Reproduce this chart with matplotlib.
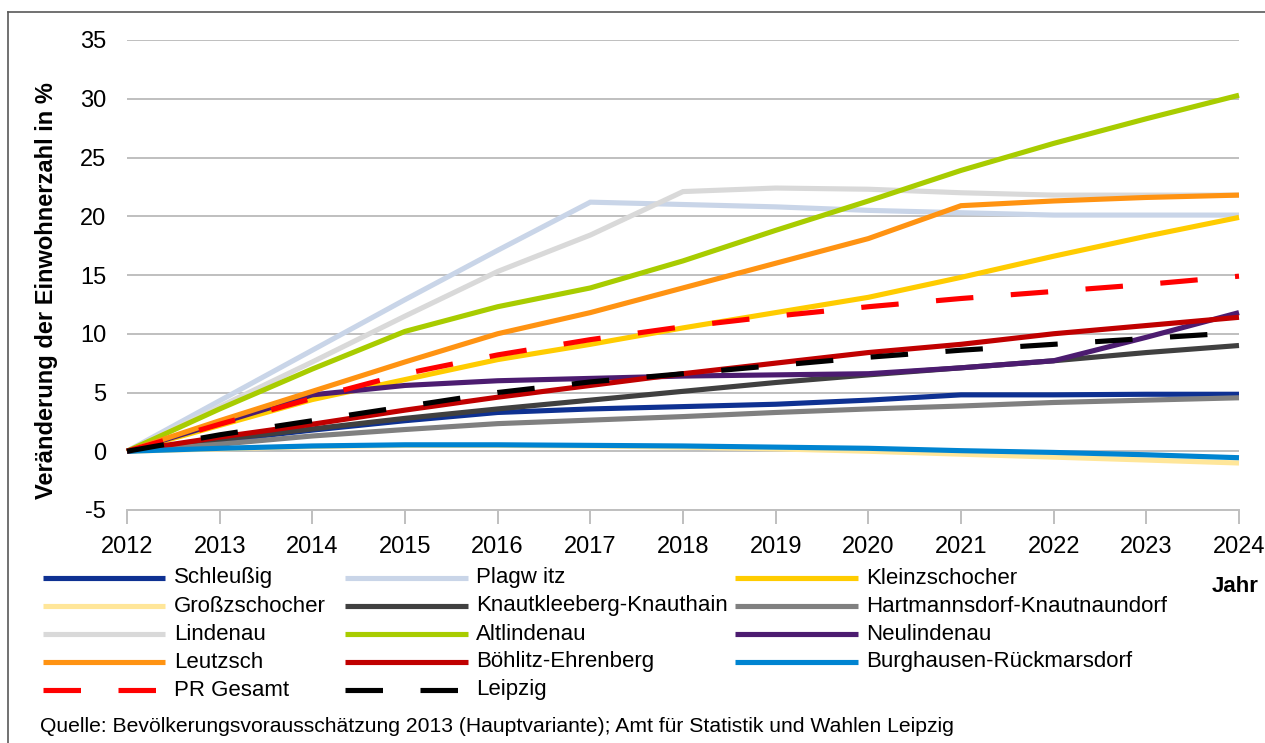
import numpy as np
import matplotlib
matplotlib.use("Agg")
import matplotlib.pyplot as plt
from matplotlib.lines import Line2D

plt.rcParams['font.family'] = ['Liberation Sans', 'DejaVu Sans']
plt.rcParams['lines.scale_dashes'] = False
plt.rcParams['axes.unicode_minus'] = False

years = list(range(2012, 2025))

labels = ["Schleußig", "Plagw itz", "Kleinzschocher", "Großzschocher",
          "Knautkleeberg-Knauthain", "Hartmannsdorf-Knautnaundorf", "Lindenau",
          "Altlindenau", "Neulindenau", "Leutzsch", "Böhlitz-Ehrenberg",
          "Burghausen-Rückmarsdorf", "PR Gesamt", "Leipzig"]

schleussig = [0, 0.9, 1.8, 2.6, 3.3, 3.6, 3.8, 4.0, 4.35, 4.8, 4.8, 4.85, 4.85]
plagwitz = [0, 4.3, 8.6, 12.9, 17.1, 21.2, 21.0, 20.8, 20.5, 20.3, 20.1, 20.1, 20.1]
kleinzschocher = [0, 2.2, 4.4, 6.1, 7.8, 9.1, 10.5, 11.8, 13.1, 14.8, 16.6, 18.3, 19.9]
grosszschocher = [0, 0.2, 0.4, 0.5, 0.5, 0.45, 0.35, 0.2, 0.0, -0.25, -0.5, -0.75, -1.0]
knautkleeberg = [0, 1.0, 1.9, 2.8, 3.6, 4.35, 5.1, 5.85, 6.5, 7.1, 7.7, 8.4, 9.0]
hartmannsdorf = [0, 0.6, 1.3, 1.85, 2.35, 2.65, 2.95, 3.3, 3.6, 3.85, 4.15, 4.35, 4.55]
lindenau = [0, 3.8, 7.6, 11.5, 15.3, 18.4, 22.1, 22.4, 22.3, 22.0, 21.8, 21.8, 21.8]
altlindenau = [0, 3.6, 7.0, 10.2, 12.3, 13.9, 16.2, 18.8, 21.3, 23.9, 26.2, 28.3, 30.3]
neulindenau = [0, 2.4, 4.8, 5.6, 6.0, 6.2, 6.4, 6.5, 6.6, 7.1, 7.7, 9.7, 11.8]
leutzsch = [0, 2.6, 5.1, 7.6, 10.0, 11.8, 13.9, 16.0, 18.1, 20.9, 21.3, 21.6, 21.8]
boehlitz = [0, 1.2, 2.3, 3.5, 4.6, 5.6, 6.6, 7.5, 8.4, 9.1, 10.0, 10.7, 11.4]
burghausen = [0, 0.25, 0.45, 0.55, 0.55, 0.5, 0.45, 0.35, 0.25, 0.05, -0.1, -0.3, -0.55]
pr_gesamt = [0, 2.3, 4.5, 6.6, 8.2, 9.5, 10.6, 11.5, 12.3, 13.0, 13.6, 14.2, 14.9]
leipzig = [0, 1.4, 2.6, 3.8, 5.0, 5.9, 6.6, 7.3, 8.0, 8.6, 9.1, 9.6, 10.1]

series = [schleussig, plagwitz, kleinzschocher, grosszschocher, knautkleeberg,
          hartmannsdorf, lindenau, altlindenau, neulindenau, leutzsch, boehlitz,
          burghausen, pr_gesamt, leipzig]

colors = ["#0E3192", "#C9D5E8", "#FFCC00", "#FFE699", "#404040", "#808080",
          "#D9D9D9", "#A8CC00", "#4C1C70", "#FF9312", "#C00000", "#0084D1",
          "#FF0000", "#000000"]
dashed = [False] * 12 + [True, True]

W, H = 1265, 743
fig = plt.figure(figsize=(W / 100, H / 100), dpi=100)
ax = fig.add_axes([127 / W, 1 - 510 / H, (1239 - 127) / W, (510 - 40) / H])

lw = 3.7
for vals, c, d, lab in zip(series, colors, dashed, labels):
    ls = (0, (27, 27)) if d else '-'
    ax.plot(years, vals, color=c, lw=lw, ls=ls, label=lab, clip_on=False,
            solid_joinstyle='miter', dash_capstyle='butt', solid_capstyle='butt')

ax.set_xlim(2012, 2024)
ax.set_ylim(-5, 35)
ax.set_xticks(years)
ax.set_yticks(range(-5, 36, 5))
ax.yaxis.grid(True, color="#BFBFBF", lw=1.4)
ax.set_axisbelow(True)
for s in ['left', 'right', 'top']:
    ax.spines[s].set_visible(False)
ax.spines['bottom'].set_color("#BFBFBF")
ax.spines['bottom'].set_linewidth(1.4)
ax.tick_params(axis='x', direction='out', length=10, width=1.4, color="#BFBFBF",
               labelsize=17, pad=9)
ax.tick_params(axis='y', length=0, labelsize=17, pad=15)
ax.set_ylabel("Veränderung der Einwohnerzahl in %", fontsize=17, fontweight='bold')
ax.yaxis.set_label_coords((58 - 127) / (1239 - 127), 0.466)

# legend, laid out row by row like the original
col_x = [(43, 165, 174), (345, 468, 476), (735, 858, 866)]
row_y = [578, 606, 634, 662, 690]
for i, (lab, c, d) in enumerate(zip(labels, colors, dashed)):
    r, k = divmod(i, 3)
    x0, x1, xt = col_x[k]
    y = 1 - row_y[r] / H
    ls = (0, (27, 27)) if d else '-'
    fig.add_artist(Line2D([x0 / W, x1 / W], [y, y], color=c, lw=lw, ls=ls,
                          transform=fig.transFigure, solid_capstyle='butt',
                          dash_capstyle='butt'))
    fig.text(xt / W, y, lab, fontsize=16, va='center', ha='left')

fig.text(1259 / W, 1 - 586 / H, "Jahr", fontsize=16, fontweight='bold',
         ha='right', va='center')
fig.text(40 / W, 1 - 727 / H,
         "Quelle: Bevölkerungsvorausschätzung 2013 (Hauptvariante); Amt für Statistik und Wahlen Leipzig",
         fontsize=15.2, ha='left', va='center')

# chart area border
fig.add_artist(Line2D([8 / W, 8 / W], [0, 1 - 12 / H], color="#595959", lw=1.2,
                      transform=fig.transFigure))
fig.add_artist(Line2D([8 / W, 1], [1 - 12 / H, 1 - 12 / H], color="#595959", lw=1.2,
                      transform=fig.transFigure))

fig.savefig("out.png", dpi=100)
